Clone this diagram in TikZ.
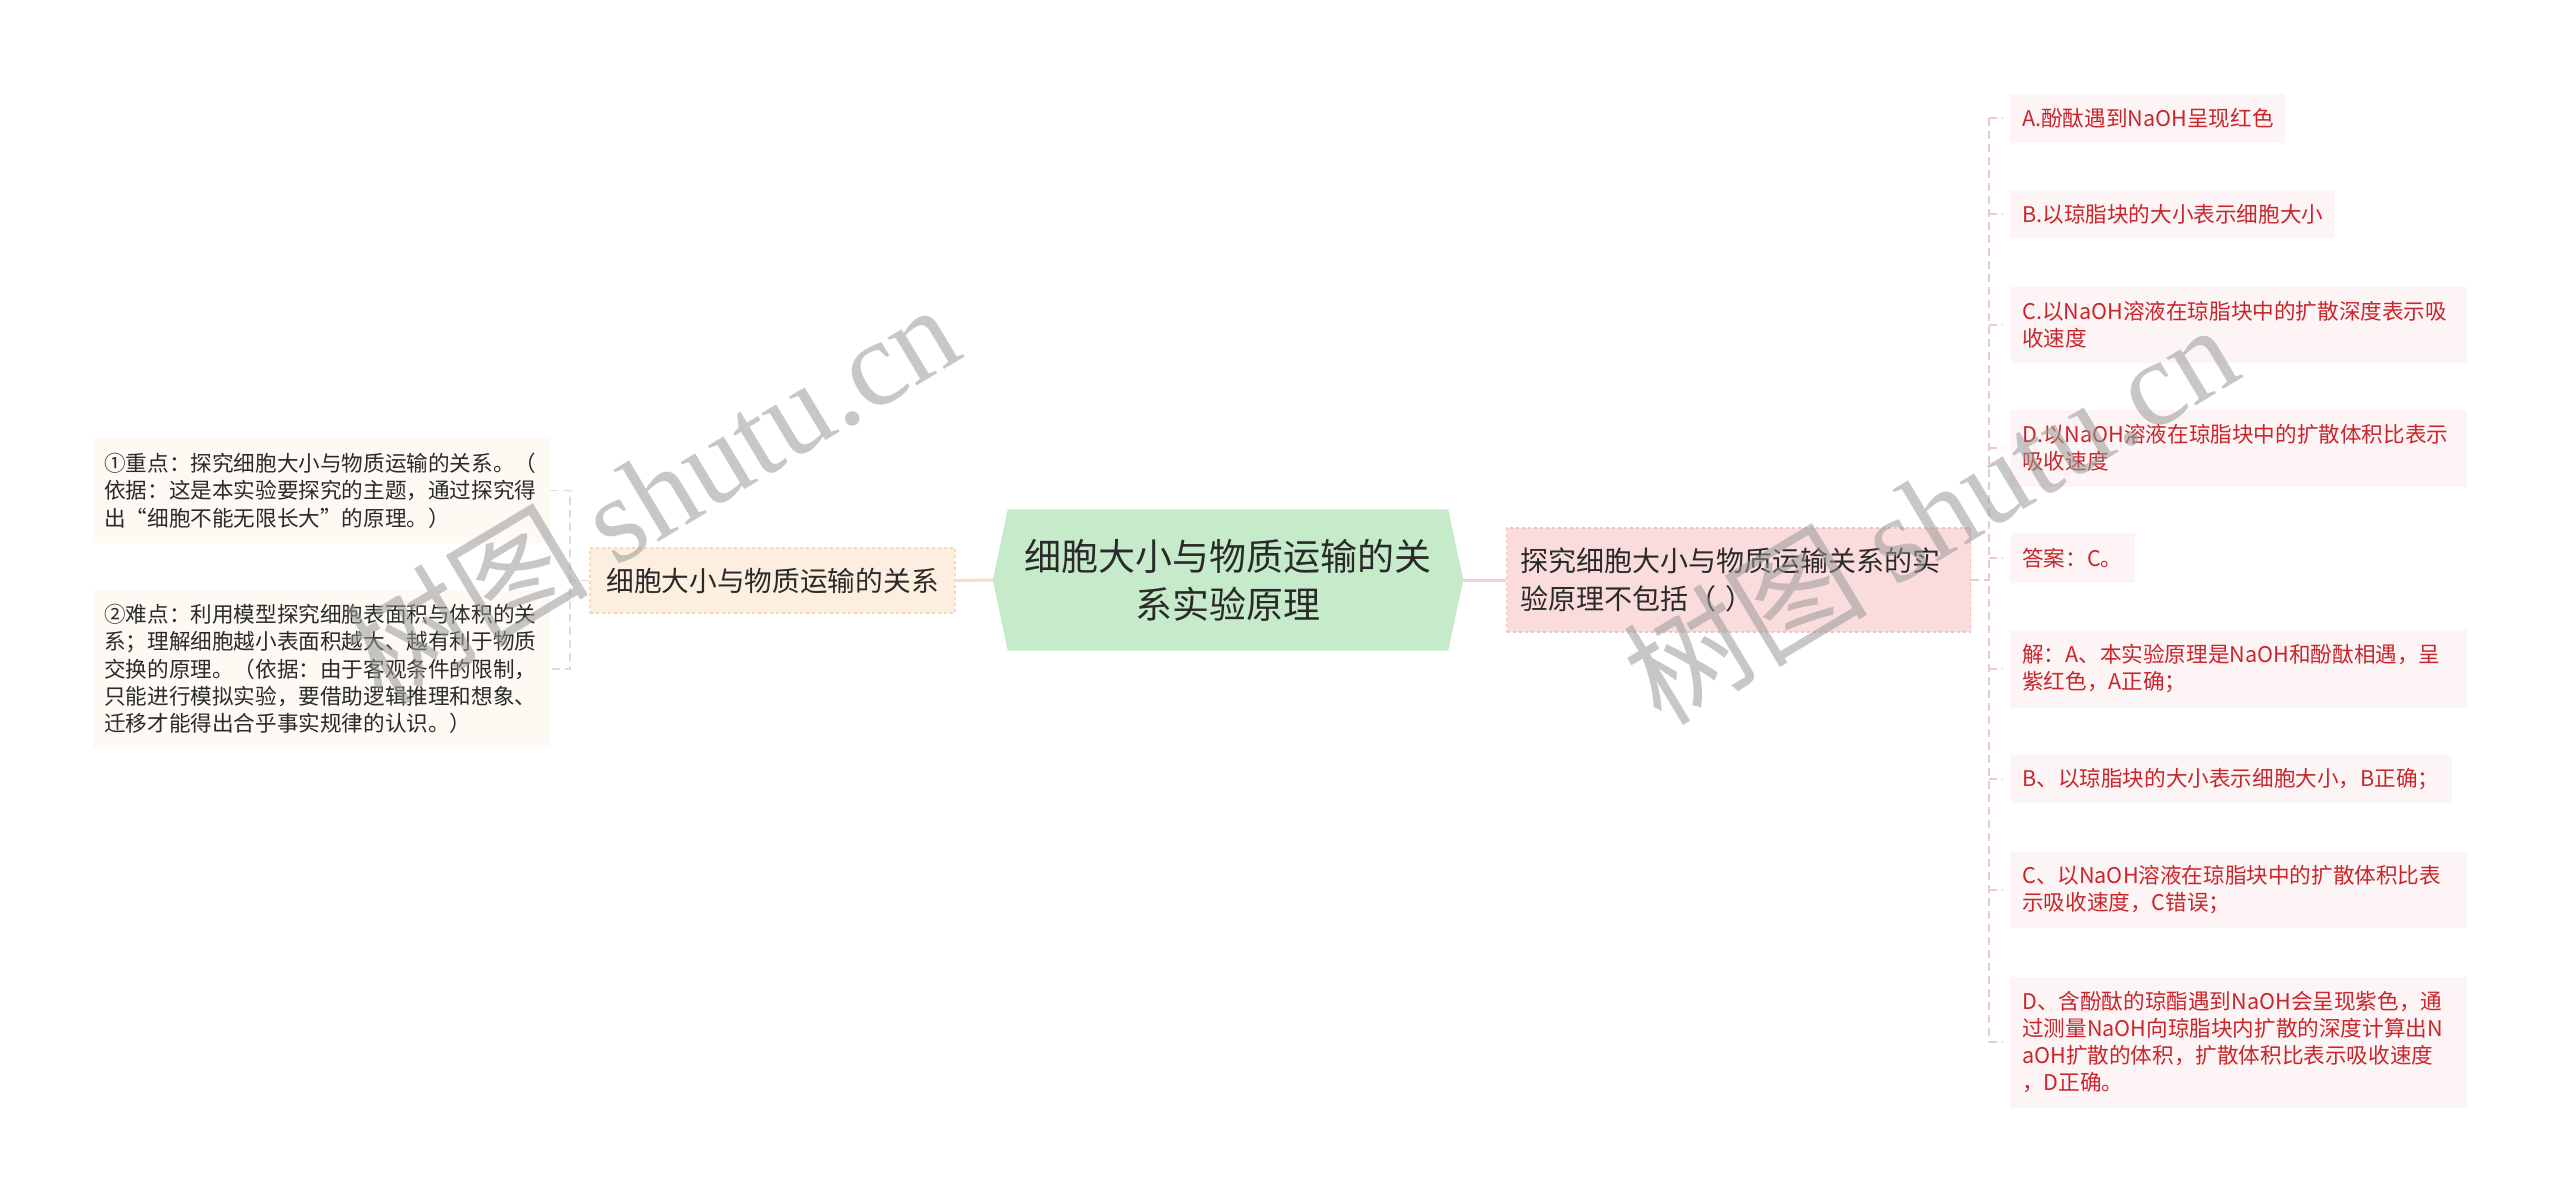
\documentclass[tikz,border=0pt]{standalone}
\usepackage{fontspec}
\setmainfont{Noto Sans CJK SC}
\newfontfamily\cjkwm{Noto Sans CJK SC}
\newfontfamily\wmlatin{Liberation Serif}
\usetikzlibrary{backgrounds}
\definecolor{txt}{HTML}{2A2A2A}
\definecolor{redtxt}{HTML}{C8262C}
\definecolor{rootfill}{HTML}{C6EBCB}
\definecolor{lfill}{HTML}{FDEFDF}
\definecolor{lborder}{HTML}{F5D8BA}
\definecolor{lline}{HTML}{F8DCC6}
\definecolor{lchild}{HTML}{FDF9F3}
\definecolor{lbracket}{HTML}{E2DCD3}
\definecolor{rfill}{HTML}{FBDCDC}
\definecolor{rborder}{HTML}{F1C0C1}
\definecolor{rline}{HTML}{F4CFD1}
\definecolor{rchild}{HTML}{FDF5F5}
\definecolor{rbracket}{HTML}{EBC9CC}
\tikzset{
  rootnode/.style={minimum width=470pt, minimum height=141pt, inner sep=0pt, align=center, text=txt,
    font=\fontsize{37}{48}\selectfont},
  lnode/.style={fill=lfill, draw=lborder, dashed, line width=1.2pt, minimum width=365pt, minimum height=65pt,
    inner sep=0pt, text=txt, font=\fontsize{27.7}{36}\selectfont},
  rnode/.style={fill=rfill, draw=rborder, dashed, line width=1.2pt, anchor=west, inner xsep=14pt, inner ysep=0pt,
    text width=436pt, minimum height=104pt, align=left, text=txt, font=\fontsize{28}{38}\selectfont},
  lchildbox/.style={fill=lchild, anchor=west, inner xsep=11pt, inner ysep=0pt, text width=435pt, align=left,
    text=txt, font=\fontsize{21.6}{27.4}\selectfont},
  rchildbox/.style={fill=rchild, anchor=west, inner xsep=12pt, inner ysep=0pt, align=left,
    text=redtxt, font=\fontsize{21.6}{27}\selectfont},
  lconn/.style={draw=lline, line width=3pt},
  rconn/.style={draw=rline, line width=3pt},
  lbrk/.style={draw=lbracket, line width=1.5pt, dash pattern=on 8pt off 5pt},
  rbrk/.style={draw=rbracket, line width=1.5pt, dash pattern=on 8pt off 5pt},
  watermark/.style={text=black!40, text opacity=0.55, inner sep=0pt, font=\fontsize{122}{122}\selectfont}
}
\begin{document}
\begin{tikzpicture}[x=1pt, y=-1pt]
\useasboundingbox (0,0) rectangle (2560,1202);

% root
\node[rootnode] (root) at (1228,580) {细胞大小与物质运输的关\\系实验原理};
\begin{scope}[on background layer]
\fill[white] (0,0) rectangle (2560,1202);
\fill[rootfill] (root.west) -- ([xshift=15pt]root.north west) -- ([xshift=-15pt]root.north east)
  -- (root.east) -- ([xshift=-15pt]root.south east) -- ([xshift=15pt]root.south west) -- cycle;
\end{scope}

% left branch
\node[lnode] (lmain) at (772.5,580.5) {细胞大小与物质运输的关系};
\node[lchildbox, minimum height=105pt] (lc1) at (93,490.5)
  {①重点：探究细胞大小与物质运输的关系。（\\依据：这是本实验要探究的主题，通过探究得\\出“细胞不能无限长大”的原理。）};
\node[lchildbox, minimum height=158pt] (lc2) at (93,669)
  {②难点：利用模型探究细胞表面积与体积的关\\系；理解细胞越小表面积越大、越有利于物质\\交换的原理。（依据：由于客观条件的限制，\\只能进行模拟实验，要借助逻辑推理和想象、\\迁移才能得出合乎事实规律的认识。）};
\coordinate (lbr) at (570,580.5);

% right branch
\node[rnode] (rmain) at (1506,580) {探究细胞大小与物质运输关系的实\\验原理不包括（ ）};
\node[rchildbox, text width=251pt, minimum height=49pt] (ra) at (2010,118) {A.酚酞遇到NaOH呈现红色};
\node[rchildbox, text width=301pt, minimum height=48pt] (rb) at (2010,214) {B.以琼脂块的大小表示细胞大小};
\node[rchildbox, text width=433pt, minimum height=76pt] (rc) at (2010,325) {C.以NaOH溶液在琼脂块中的扩散深度表示吸\\收速度};
\node[rchildbox, text width=433pt, minimum height=77pt] (rd) at (2010,448) {D.以NaOH溶液在琼脂块中的扩散体积比表示\\吸收速度};
\node[rchildbox, text width=101pt, minimum height=50pt] (rans) at (2010,558) {答案：C。};
\node[rchildbox, text width=433pt, minimum height=78pt] (rjie) at (2010,669) {解：A、本实验原理是NaOH和酚酞相遇，呈\\紫红色，A正确；};
\node[rchildbox, text width=418pt, minimum height=48pt] (rb2) at (2010,779) {B、以琼脂块的大小表示细胞大小，B正确；};
\node[rchildbox, text width=433pt, minimum height=76pt] (rc2) at (2010,890) {C、以NaOH溶液在琼脂块中的扩散体积比表\\示吸收速度，C错误；};
\node[rchildbox, text width=433pt, minimum height=131pt] (rd2) at (2010,1042) {D、含酚酞的琼酯遇到NaOH会呈现紫色，通\\过测量NaOH向琼脂块内扩散的深度计算出N\\aOH扩散的体积，扩散体积比表示吸收速度\\，D正确。};
\coordinate (rbr) at (1989,580);

% connectors
\draw[lconn] (root.west) -- (lmain.east);
\draw[lbrk] (lmain.west) -- (lbr);
\draw[lbrk] (lc1.east) -- (lc1.east -| lbr) -- (lc2.east -| lbr) -- (lc2.east);

\draw[rconn] (root.east) -- (rmain.west);
\draw[rbrk] (rmain.east) -- (rbr);
\draw[rbrk] (ra.west -| rbr) -- (rd2.west -| rbr);
\foreach \c in {ra,rb,rc,rd,rans,rjie,rb2,rc2,rd2}{
  \draw[rbrk] (\c.west -| rbr) -- ([xshift=-7pt]\c.west);
}

% watermarks
\node[watermark, rotate=31] (wm1) at (651,492) {{\cjkwm 树图} {\wmlatin shutu.cn}};
\node[watermark, rotate=31] (wm2) at (1930,512) {{\cjkwm 树图} {\wmlatin shutu.cn}};
\end{tikzpicture}
\end{document}
